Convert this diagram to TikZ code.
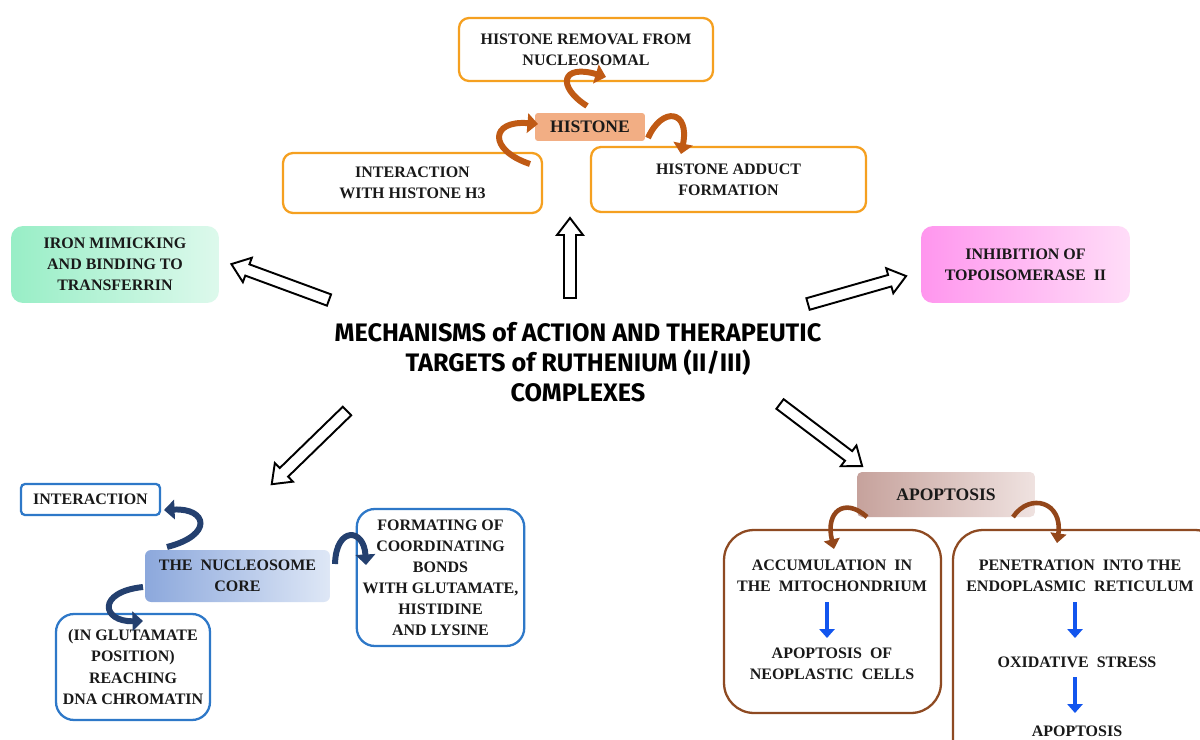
\documentclass[tikz,border=0pt]{standalone}
\usepackage{fontspec}
\setmainfont{Liberation Serif}
\newfontfamily\titlefont{Fira Sans}
\usetikzlibrary{arrows.meta}
\definecolor{orbord}{HTML}{F5A020}
\definecolor{histfill}{HTML}{F2AE84}
\definecolor{histarr}{HTML}{C05A14}
\definecolor{bluebord}{HTML}{2E78C8}
\definecolor{navyarr}{HTML}{24406F}
\definecolor{brownbord}{HTML}{8E4A22}
\definecolor{brownarr}{HTML}{93461A}
\definecolor{arrblue}{HTML}{1255EE}
\definecolor{greenA}{HTML}{98EEC6}
\definecolor{greenB}{HTML}{DDF9EC}
\definecolor{pinkA}{HTML}{FF96EE}
\definecolor{pinkB}{HTML}{FFDDF8}
\definecolor{nucA}{HTML}{8CA8DC}
\definecolor{nucB}{HTML}{DEE7F6}
\definecolor{apoA}{HTML}{C6A29C}
\definecolor{apoB}{HTML}{EFE2E0}
\tikzset{
  txt/.style={font=\fontsize{9.1}{12}\selectfont\bfseries, align=center, text=black!90},
  orbox/.style={txt, draw=orbord, line width=1.3pt, rounded corners=0.2cm, fill=white},
  bluebox/.style={txt, draw=bluebord, line width=1.3pt, rounded corners=0.36cm, fill=white},
  brownbox/.style={draw=brownbord, line width=1.3pt, rounded corners=0.6cm, fill=white},
  curvh/.style={draw=histarr, line width=3.4pt, -{Triangle[length=6pt,width=11pt]}},
  curvn/.style={draw=navyarr, line width=3.4pt, -{Triangle[length=6pt,width=11pt]}},
  curva/.style={draw=brownarr, line width=2.6pt, -{Triangle[length=5.5pt,width=9pt]}},
  bluearr/.style={draw=arrblue, line width=2.8pt, -{Triangle[length=5pt,width=8.5pt]}},
  hollow/.style={draw=black, line width=1.1pt, fill=white, line join=miter},
  ttl/.style={font=\titlefont\bfseries\fontsize{14.4}{17}\selectfont, align=center}
}
\newcommand{\hollowarr}[3]{%
  \begin{scope}[shift={#1},rotate=#2]
    \draw[hollow] (0,-6) -- ({#3-17},-6) -- ({#3-17},-13) -- (#3,0) -- ({#3-17},13) -- ({#3-17},6) -- (0,6) -- cycle;
  \end{scope}}
\begin{document}
\begin{tikzpicture}[x=0.02cm,y=-0.02cm]
\useasboundingbox (0,0) rectangle (1200,740);
\clip (0,0) rectangle (1200,740);
\fill[white] (0,0) rectangle (1200,740);

% histone cluster
\node[orbox, minimum width=5.08cm, minimum height=1.26cm] (removal) at (586,49.5) {HISTONE REMOVAL FROM\\NUCLEOSOMAL};
\node[txt, fill=histfill, rounded corners=0.06cm, minimum width=2.2cm, minimum height=0.56cm, font=\fontsize{10}{12}\selectfont\bfseries] (histone) at (590,127) {HISTONE};
\node[orbox, minimum width=5.18cm, minimum height=1.2cm] (inter) at (412.5,183) {INTERACTION\\WITH HISTONE H3};
\node[orbox, minimum width=5.5cm, minimum height=1.3cm] (adduct) at (728.5,179.5) {HISTONE ADDUCT\\FORMATION};

\coordinate (h1s) at (587,106); \coordinate (h1e) at (606,77);
\coordinate (h2s) at (530,164); \coordinate (h2e) at (538,124);
\coordinate (h3s) at (648,138); \coordinate (h3e) at (681,154);
\draw[curvh] (h1s) .. controls (556,86) and (562,64) .. (h1e);
\draw[curvh] (h2s) .. controls (488,150) and (490,120) .. (h2e);
\draw[curvh] (h3s) .. controls (662,106) and (690,110) .. (h3e);

% side boxes
\node[txt, left color=greenA, right color=greenB, rounded corners=0.24cm, minimum width=4.16cm, minimum height=1.54cm] (iron) at (115,264.5) {IRON MIMICKING\\AND BINDING TO\\TRANSFERRIN};
\node[txt, left color=pinkA, right color=pinkB, rounded corners=0.24cm, minimum width=4.18cm, minimum height=1.54cm] (topo) at (1025.5,264.5) {INHIBITION OF\\TOPOISOMERASE\ \ II};

% title
\node[ttl] (title) at (578,362) {MECHANISMS of ACTION AND THERAPEUTIC\\TARGETS of RUTHENIUM (II/III)\\COMPLEXES};

% hollow arrows
\hollowarr{(570,298)}{90}{80}
\hollowarr{(329,300)}{159.8}{104}
\hollowarr{(808,304)}{15.9}{102}
\hollowarr{(347,411)}{224.2}{105}
\hollowarr{(780,404)}{-37.1}{103}

% nucleosome cluster
\node[txt, draw=bluebord, line width=1.3pt, rounded corners=0.08cm, fill=white, minimum width=2.78cm, minimum height=0.62cm] (interaction) at (90.5,499.5) {INTERACTION};
\node[txt, left color=nucA, right color=nucB, rounded corners=0.12cm, minimum width=3.7cm, minimum height=1.04cm] (nucleo) at (237.5,576) {THE\ \ NUCLEOSOME\\CORE};
\node[bluebox, minimum width=3.08cm, minimum height=2.12cm] (inglu) at (133,667) {(IN GLUTAMATE\\POSITION)\\REACHING\\DNA CHROMATIN};
\node[bluebox, minimum width=3.34cm, minimum height=2.74cm] (formating) at (440.5,577.5) {FORMATING OF\\COORDINATING\\BONDS\\WITH GLUTAMATE,\\HISTIDINE\\AND LYSINE};

\coordinate (n1s) at (167,547); \coordinate (n1e) at (164,510);
\coordinate (n2s) at (143,587); \coordinate (n2e) at (143,621);
\coordinate (n3s) at (335,564); \coordinate (n3e) at (366,565);
\draw[curvn] (n1s) .. controls (214,535) and (207,508) .. (n1e);
\draw[curvn] (n2s) .. controls (96,592) and (102,622) .. (n2e);
\draw[curvn] (n3s) .. controls (336,526) and (364,528) .. (n3e);

% apoptosis cluster
\node[txt, left color=apoA, right color=apoB, rounded corners=0.1cm, minimum width=3.56cm, minimum height=0.9cm, font=\fontsize{10}{12}\selectfont\bfseries] (apop) at (946,494.5) {APOPTOSIS};
\node[brownbox, minimum width=4.34cm, minimum height=3.66cm] (accum) at (832.5,621.5) {};
\node[brownbox, minimum width=5.44cm, minimum height=4.8cm] (penet) at (1089,650) {};

\node[txt] (acc1) at (832,575.5) {ACCUMULATION\ \ IN\\THE\ \ MITOCHONDRIUM};
\node[txt] (acc2) at (832,663.5) {APOPTOSIS\ \ OF\\NEOPLASTIC\ \ CELLS};
\node[txt] (pen1) at (1080,575.5) {PENETRATION\ \ INTO THE\\ENDOPLASMIC\ \ RETICULUM};
\node[txt] (pen2) at (1077,662) {OXIDATIVE\ \ STRESS};
\node[txt] (pen3) at (1077,731) {APOPTOSIS};

\coordinate (b1s) at (827,602); \coordinate (b1e) at (827,638);
\coordinate (b2s) at (1075,602); \coordinate (b2e) at (1075,638);
\coordinate (b3s) at (1075,677); \coordinate (b3e) at (1075,713);
\draw[bluearr] (b1s) -- (b1e);
\draw[bluearr] (b2s) -- (b2e);
\draw[bluearr] (b3s) -- (b3e);

\coordinate (a1s) at (867,517); \coordinate (a1e) at (834,549);
\coordinate (a2s) at (1013,517); \coordinate (a2e) at (1057,543);
\draw[curva] (a1s) .. controls (845,497) and (825,511) .. (a1e);
\draw[curva] (a2s) .. controls (1030,492) and (1063,502) .. (a2e);
\end{tikzpicture}
\end{document}
